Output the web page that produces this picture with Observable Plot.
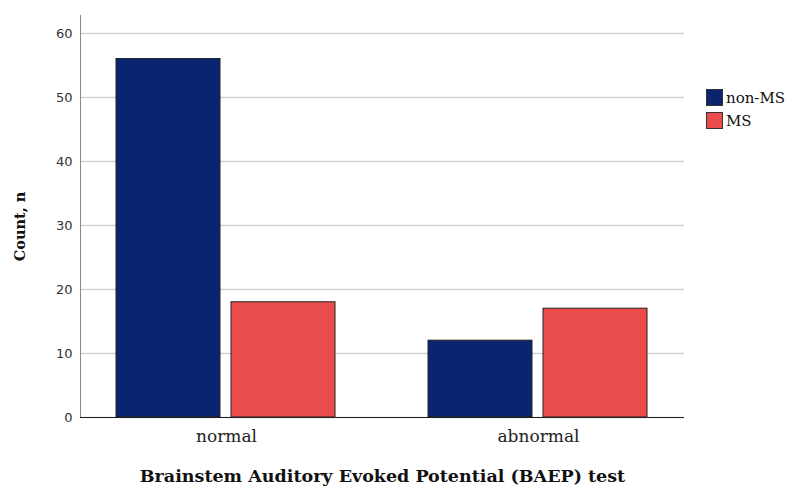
<!DOCTYPE html>
<html><head><meta charset="utf-8">
<script src="https://cdn.jsdelivr.net/npm/d3@7"></script>
<script src="https://cdn.jsdelivr.net/npm/@observablehq/plot@0.6"></script>
<style>
body{margin:0;background:#fff;}
#wrap{position:relative;width:787px;height:488px;background:#fff;}
#wrap svg{position:absolute;left:0;top:0;}
#legend{position:absolute;left:706px;top:86px;font-family:"DejaVu Serif",serif;font-size:15px;color:#111;}
.item{display:flex;align-items:center;height:23px;}
.sw{width:15px;height:15px;border:1px solid #333;margin-right:3px;box-sizing:content-box;}
</style></head>
<body><div id="wrap"><div id="legend"></div></div>
<script>
const categories = ["normal", "abnormal"];
const groups = ["non-MS", "MS"];
const nonMS = [56, 12];
const MS = [18, 17];
const yTicks = [0, 10, 20, 30, 40, 50, 60];
const colors = ["#0b246f", "#ea4b4b"];
const yTitle = "Count, n";
const xTitle = "Brainstem Auditory Evoked Potential (BAEP) test";

const data = categories.flatMap((c, i) => [
  {cat: c, group: groups[0], n: nonMS[i]},
  {cat: c, group: groups[1], n: MS[i]}
]);

const serif = "DejaVu Serif, serif";
const sans = "DejaVu Sans, sans-serif";
const common = {width: 787, height: 488, marginLeft: 80, marginRight: 103, marginTop: 15, marginBottom: 71};
const yScale = {domain: [0, 62.8]};

const back = Plot.plot({
  ...common,
  y: {...yScale, axis: null},
  x: {domain: [0, 1], axis: null},
  marks: [
    Plot.gridY(yTicks, {stroke: "#d2d2d2", strokeOpacity: 1, strokeWidth: 1.5}),
    Plot.axisY(yTicks, {tickSize: 0, tickPadding: 8, fontSize: 13, fontFamily: sans, fill: "#333", label: null}),
    Plot.ruleX([0], {stroke: "#8a8a8a", strokeWidth: 1}),
    Plot.ruleY([0], {stroke: "#222", strokeWidth: 1}),
    Plot.text([yTitle], {text: d => d, frameAnchor: "left", textAnchor: "middle", lineAnchor: "middle", dx: -60, dy: 10, rotate: -90, fontFamily: serif, fontWeight: "bold", fontSize: 14.5, fill: "#111"}),
    Plot.text([xTitle], {text: d => d, frameAnchor: "bottom", textAnchor: "middle", lineAnchor: "middle", dy: 59, fontFamily: serif, fontWeight: "bold", fontSize: 17.5, fill: "#111"})
  ]
});

const front = Plot.plot({
  ...common,
  style: {background: "transparent"},
  fx: {domain: categories, paddingInner: 0.296, paddingOuter: 0.114},
  x: {domain: groups, paddingInner: 0.095, paddingOuter: 0, axis: null},
  y: {...yScale, axis: null},
  color: {domain: groups, range: colors},
  marks: [
    Plot.barY(data, {fx: "cat", x: "group", y: "n", fill: "group", stroke: "#222", strokeWidth: 1}),
    Plot.axisFx({anchor: "bottom", tickSize: 0, tickPadding: 12, fontSize: 17, fontFamily: serif, fill: "#222", label: null})
  ]
});

const wrap = document.getElementById("wrap");
wrap.insertBefore(back, wrap.firstChild);
wrap.insertBefore(front, back.nextSibling);

const legend = document.getElementById("legend");
groups.forEach((g, i) => {
  const it = document.createElement("div");
  it.className = "item";
  const sw = document.createElement("div");
  sw.className = "sw";
  sw.style.background = colors[i];
  const t = document.createElement("span");
  t.textContent = g;
  it.appendChild(sw); it.appendChild(t);
  legend.appendChild(it);
});
</script>
</body></html>
